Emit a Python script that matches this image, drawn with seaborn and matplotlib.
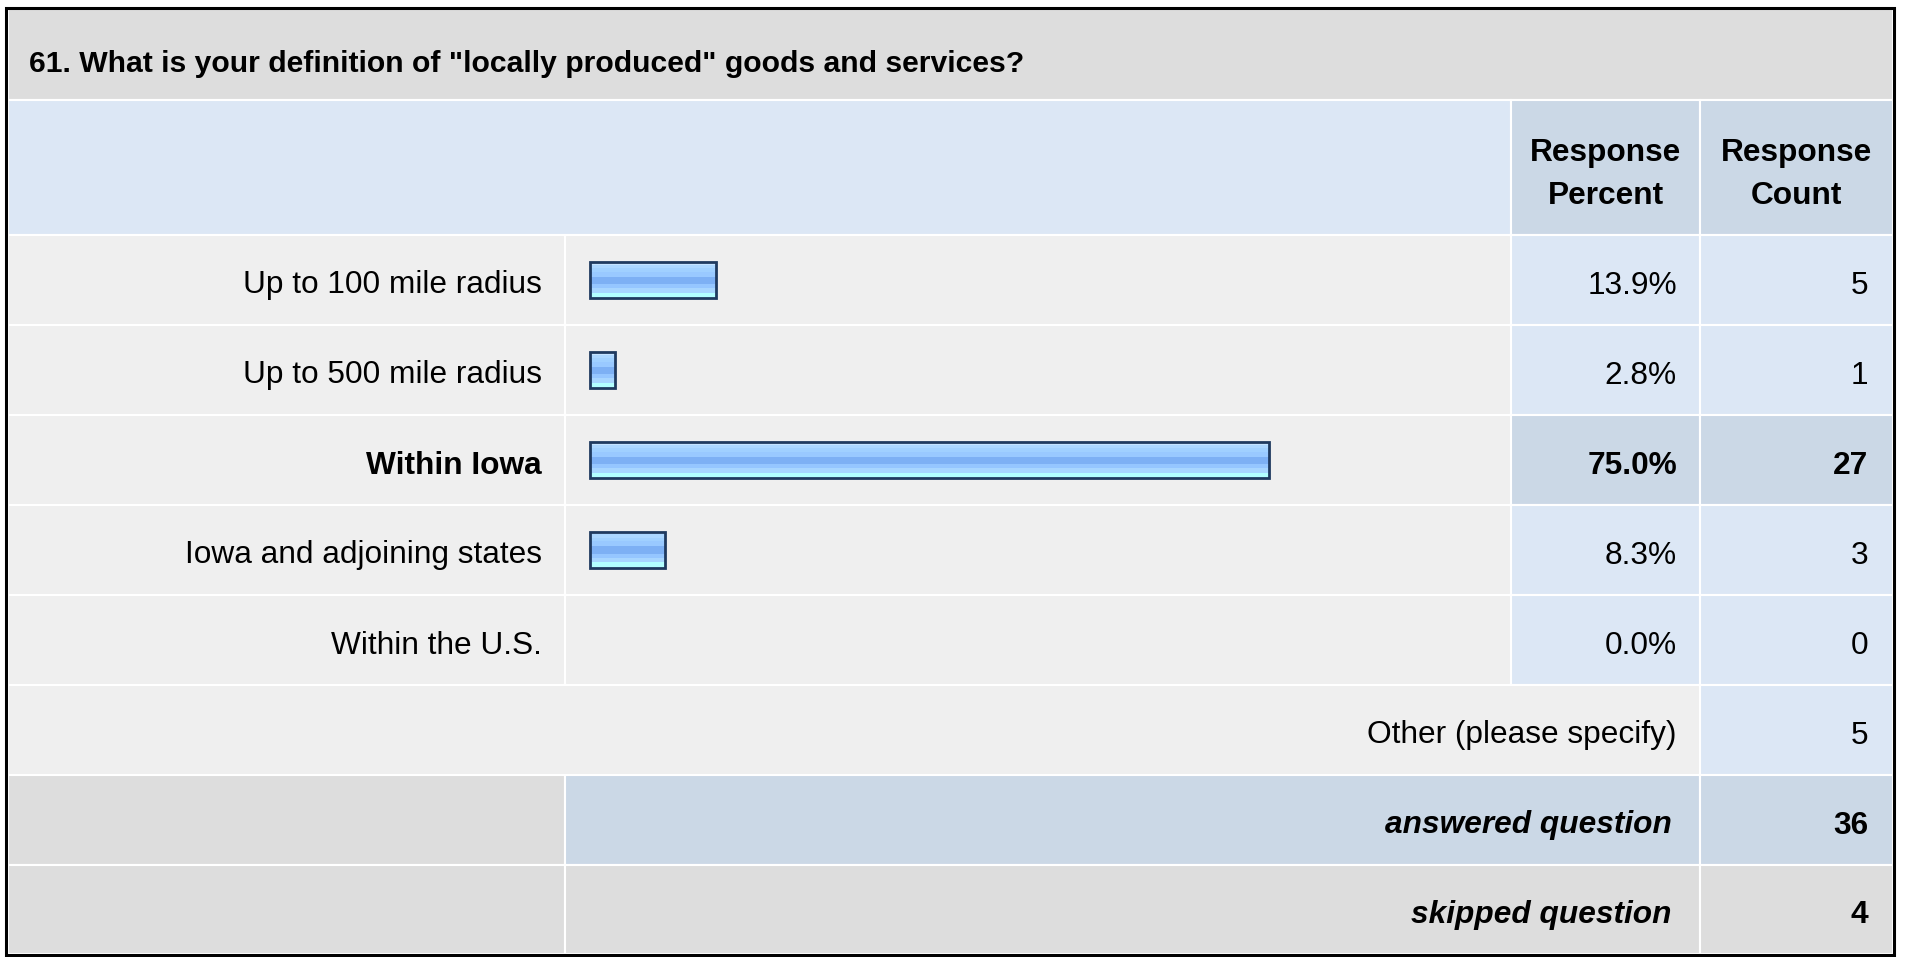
import matplotlib
matplotlib.use("Agg")
import matplotlib.pyplot as plt
from matplotlib.patches import Rectangle
from matplotlib.colors import to_rgb
import numpy as np
import seaborn as sns

# ---------------- data ----------------
title = '61. What is your definition of "locally produced" goods and services?'
categories = ["Up to 100 mile radius", "Up to 500 mile radius", "Within Iowa",
              "Iowa and adjoining states", "Within the U.S."]
percents = [13.9, 2.8, 75.0, 8.3, 0.0]
counts = [5, 1, 27, 3, 0]
highlight = "Within Iowa"
other_label = "Other (please specify)"
other_count = 5
answered = 36
skipped = 4
header_pct = "Response\nPercent"
header_cnt = "Response\nCount"

# ---------------- style ----------------
sns.set_theme(style="white")
plt.rcParams['font.family'] = ['Liberation Sans', 'DejaVu Sans']
plt.rcParams['text.color'] = 'black'

W, H = 1915, 957
fig = plt.figure(figsize=(W / 100, H / 100), dpi=100)
fig.patch.set_facecolor("white")

bg = fig.add_axes([0, 0, 1, 1])
bg.set_xlim(0, W)
bg.set_ylim(H, 0)
bg.axis("off")

GRAY_T = "#DDDDDD"
GRAY_R = "#EFEFEF"
BLUE_L = "#DCE7F5"
BLUE_D = "#CBD8E6"

X0, X1, X2, X3, X4 = 8, 565, 1511, 1700, 1893
Y0, Y1, Y2 = 9, 100, 235
ROW_H = 90
rows_y = [Y2 + i * ROW_H for i in range(9)]
rows_y[-1] = 954


def cell(x0, y0, x1, y1, color):
    bg.add_patch(Rectangle((x0, y0), x1 - x0, y1 - y0, facecolor=color,
                           edgecolor="white", linewidth=1.5, zorder=1))


FS = 22.8
TC = "black"

# title
cell(X0, Y0, X4, Y1, GRAY_T)
t = bg.text(29, 61, title, ha="left", va="center_baseline", fontsize=FS,
            fontweight="bold", color=TC, zorder=5)
fig.canvas.draw()
w = t.get_window_extent(fig.canvas.get_renderer()).width
t.set_fontsize(FS * 997 / w)

# header
cell(X0, Y1, X2, Y2, BLUE_L)
cell(X2, Y1, X3, Y2, BLUE_D)
cell(X3, Y1, X4, Y2, BLUE_D)
for xc, txt in [((X2 + X3) / 2, header_pct), ((X3 + X4) / 2, header_cnt)]:
    a, b = txt.split("\n")
    bg.text(xc, 149, a, ha="center", va="center_baseline", fontsize=FS,
            fontweight="bold", color=TC, zorder=5)
    bg.text(xc, 193, b, ha="center", va="center_baseline", fontsize=FS,
            fontweight="bold", color=TC, zorder=5)

# data rows
for i, (cat, p, c) in enumerate(zip(categories, percents, counts)):
    y0, y1 = rows_y[i], rows_y[i + 1]
    hl = cat == highlight
    cell(X0, y0, X1, y1, GRAY_R)
    cell(X1, y0, X2, y1, GRAY_R)
    cell(X2, y0, X3, y1, BLUE_D if hl else BLUE_L)
    cell(X3, y0, X4, y1, BLUE_D if hl else BLUE_L)
    yc = (y0 + y1) / 2 + 2
    fw = "bold" if hl else "normal"
    bg.text(542, yc, cat, ha="right", va="center_baseline", fontsize=FS,
            fontweight=fw, color=TC, zorder=5)
    bg.text(1677, yc, f"{p:.1f}%", ha="right", va="center_baseline",
            fontsize=FS, fontweight=fw, color=TC, zorder=5)
    bg.text(1868, yc, f"{c}", ha="right", va="center_baseline",
            fontsize=FS, fontweight=fw, color=TC, zorder=5)

# other row
y0, y1 = rows_y[5], rows_y[6]
cell(X0, y0, X3, y1, GRAY_R)
cell(X3, y0, X4, y1, BLUE_L)
yc = (y0 + y1) / 2 + 2
bg.text(1677, yc, other_label, ha="right", va="center_baseline", fontsize=FS,
        color=TC, zorder=5)
bg.text(1868, yc, f"{other_count}", ha="right", va="center_baseline", fontsize=FS,
        color=TC, zorder=5)

# answered row
y0, y1 = rows_y[6], rows_y[7]
cell(X0, y0, X1, y1, GRAY_T)
cell(X1, y0, X3, y1, BLUE_D)
cell(X3, y0, X4, y1, BLUE_D)
yc = (y0 + y1) / 2 + 2
bg.text(1672, yc, "answered question", ha="right", va="center_baseline", fontsize=FS,
        fontweight="bold", fontstyle="italic", color=TC, zorder=5)
bg.text(1868, yc, f"{answered}", ha="right", va="center_baseline", fontsize=FS,
        fontweight="bold", color=TC, zorder=5)

# skipped row
y0, y1 = rows_y[7], rows_y[8]
cell(X0, y0, X1, y1, GRAY_T)
cell(X1, y0, X3, y1, GRAY_T)
cell(X3, y0, X4, y1, GRAY_T)
yc = (y0 + y1) / 2 + 2
bg.text(1672, yc, "skipped question", ha="right", va="center_baseline", fontsize=FS,
        fontweight="bold", fontstyle="italic", color=TC, zorder=5)
bg.text(1868, yc, f"{skipped}", ha="right", va="center_baseline", fontsize=FS,
        fontweight="bold", color=TC, zorder=5)

# outer border
bg.add_patch(Rectangle((6, 8), 1888, 947, facecolor="none", edgecolor="black",
                       linewidth=2.2, zorder=6))

# ---------------- bars ----------------
ax = fig.add_axes([X1 / W, 1 - rows_y[5] / H, (X2 - X1) / W, (rows_y[5] - Y2) / H])
ax.set_facecolor("none")
sns.barplot(x=percents, y=categories, orient="h", ax=ax, width=0.4,
            color="#99CCFF", edgecolor="#1F3A5F", linewidth=2.0, saturation=1)
px0, ppp = 590, 9.05
ax.set_xlim((X1 - px0) / ppp, (X2 - px0) / ppp)
ax.set_ylim(len(categories) - 0.5, -0.5)
ax.axis("off")

stops = [(0.07, "#C5E3FF"), (0.18, "#ABD6FF"), (0.28, "#A0D0FF"), (0.41, "#99C9FF"),
         (0.62, "#7DB0F4"), (0.72, "#95C6FF"), (0.85, "#A8D6FF"), (1.0, "#B3FFFF")]
N = 100
grad = np.zeros((N, 1, 3))
for k in range(N):
    f = (k + 0.5) / N
    for lim, col in stops:
        if f <= lim:
            grad[k, 0] = to_rgb(col)
            break

for patch in list(ax.patches):
    wdt = patch.get_width()
    if wdt <= 0:
        patch.set_visible(False)
        continue
    x, y = patch.get_x(), patch.get_y()
    h = patch.get_height()
    im = ax.imshow(grad, extent=(x, x + wdt, y + h, y), aspect="auto",
                   interpolation="nearest", zorder=2)
    im.set_clip_path(patch)
    patch.set_facecolor("none")
    patch.set_zorder(3)
ax.set_xlim((X1 - px0) / ppp, (X2 - px0) / ppp)
ax.set_ylim(len(categories) - 0.5, -0.5)

fig.savefig("out.png", dpi=100, facecolor="white")
